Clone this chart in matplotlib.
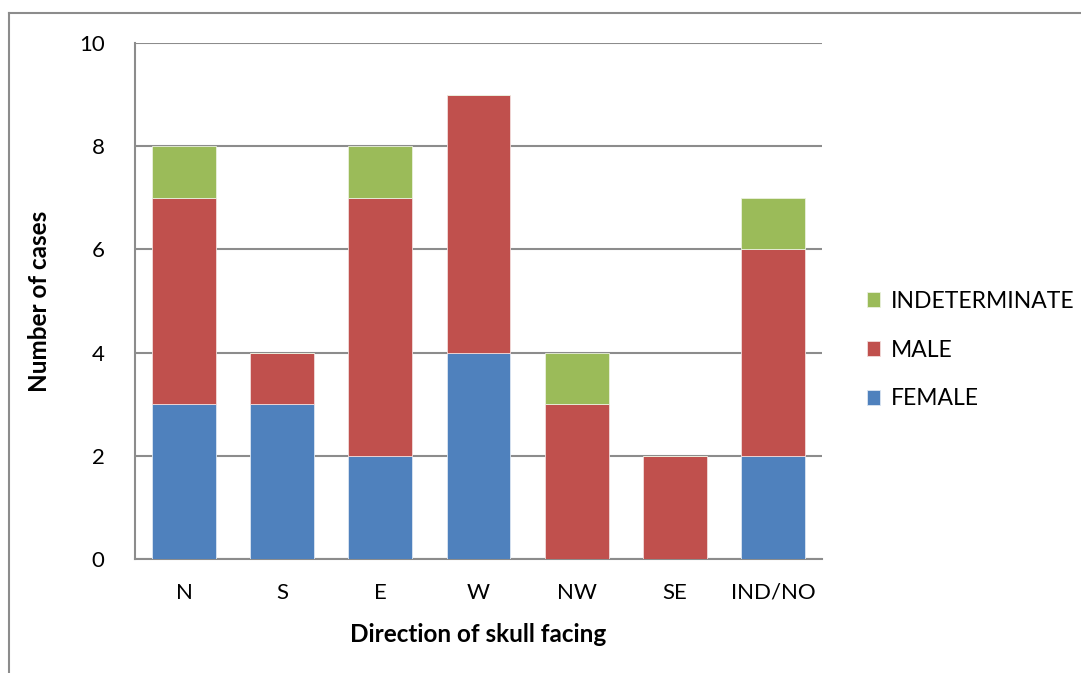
import matplotlib

matplotlib.use("Agg")
import matplotlib.pyplot as plt
import numpy as np
from matplotlib.lines import Line2D

plt.rcParams["font.family"] = ["Lato", "DejaVu Sans"]

directions = ["N", "S", "E", "W", "NW", "SE", "IND/NO"]
female = [3, 3, 2, 4, 0, 0, 2]
male = [4, 1, 5, 5, 3, 2, 4]
indeterminate = [1, 0, 1, 0, 1, 0, 1]
y_ticks = [0, 2, 4, 6, 8, 10]

BLUE = "#4F81BD"
RED = "#C0504D"
GREEN = "#9BBB59"
GRID = "#8C8C8C"

fig = plt.figure(figsize=(10.81, 6.73), dpi=100)
ax = fig.add_axes([0.1249, 0.1694, 0.6355, 0.7667])

x = np.arange(len(directions))
f = np.array(female)
m = np.array(male)
i = np.array(indeterminate)
width = 0.65
ax.bar(x, f, width, color=BLUE, edgecolor="#DCE6F2", linewidth=0.6, label="FEMALE", zorder=3)
ax.bar(x, m, width, bottom=f, color=RED, edgecolor="#F2DCDB", linewidth=0.6, label="MALE", zorder=3)
ax.bar(x, i, width, bottom=f + m, color=GREEN, edgecolor="#EBF1DE", linewidth=0.6,
       label="INDETERMINATE", zorder=3)

ax.set_xlim(-0.5, len(directions) - 0.5)
ax.set_ylim(0, 10)
ax.set_yticks(y_ticks)
ax.set_xticks(x)
ax.set_xticklabels(directions)
ax.tick_params(axis="both", length=0, labelsize=16)
ax.tick_params(axis="y", pad=22)
ax.tick_params(axis="x", pad=17)
ax.yaxis.grid(True, color=GRID, linewidth=1.5, zorder=0)
for side in ["top", "right"]:
    ax.spines[side].set_visible(False)
for side in ["left", "bottom"]:
    ax.spines[side].set_color(GRID)
    ax.spines[side].set_linewidth(1.5)

ax.set_xlabel("Direction of skull facing", fontsize=17.5, fontweight="bold", labelpad=15)
ax.set_ylabel("Number of cases", fontsize=17.5, fontweight="bold", labelpad=20)

handles, labels = ax.get_legend_handles_labels()
ax.legend(handles[::-1], labels[::-1], loc="center left", bbox_to_anchor=(1.035, 0.405),
          frameon=False, fontsize=16.5, handlelength=0.6, handleheight=0.6,
          handletextpad=0.45, labelspacing=1.22)

# outer chart-area frame (left and top only visible)
fig.add_artist(Line2D([9 / 1081, 9 / 1081], [0, 1 - 13 / 673], color=GRID, linewidth=1.5))
fig.add_artist(Line2D([9 / 1081, 1], [1 - 13 / 673, 1 - 13 / 673], color=GRID, linewidth=1.5))

fig.savefig("out.png", dpi=100)
